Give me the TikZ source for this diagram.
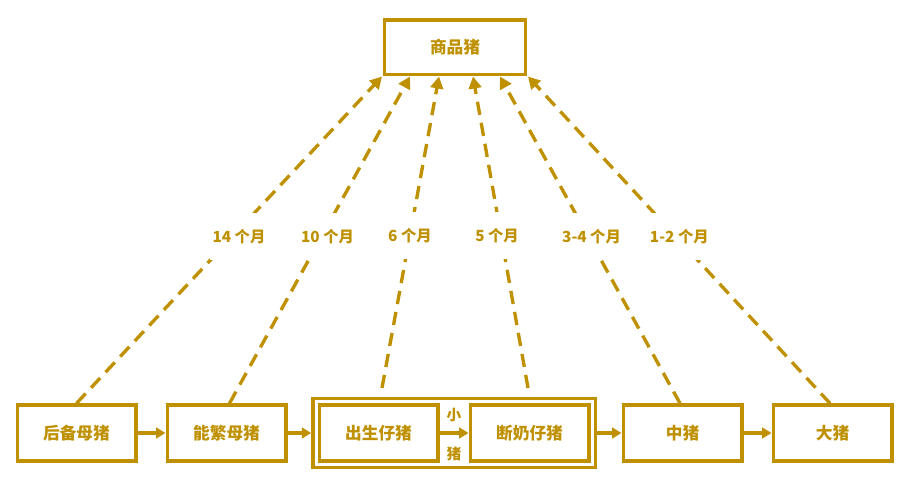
\documentclass[tikz,border=0pt]{standalone}
\usepackage{fontspec}
\setmainfont{Noto Sans CJK SC}
\usetikzlibrary{arrows.meta,calc,fit}
\definecolor{gold}{RGB}{191,144,0}
\tikzset{
  stage/.style = {draw=gold, line width=2.5pt, text=gold, font=\bfseries\fontsize{12.5}{14}\selectfont,
                  minimum width=89pt, minimum height=42pt, fill=white},
  flow/.style  = {draw=gold, line width=2.5pt, -{Triangle[length=7pt,width=8pt]}},
  sale/.style  = {flow, -{Triangle[length=9pt,width=9.5pt]}, dash pattern=on 10pt off 6pt},
  age/.style   = {fill=white, text=gold, font=\bfseries\fontsize{11.5}{13}\selectfont, inner xsep=2pt, inner ysep=12pt},
  tag/.style   = {text=gold, font=\bfseries\fontsize{11}{13}\selectfont, inner sep=1pt},
}
\begin{document}
\begin{tikzpicture}[x=0.75pt, y=-0.75pt]
\useasboundingbox (0,0) rectangle (910,484);
\node [stage, minimum width=106pt, minimum height=41pt] (market) at (455,47.5) {商品猪};
\node [stage] (gilt)     at (76.5,433)  {后备母猪};
\node [stage] (sow)      at (226.5,433) {能繁母猪};
\node [stage] (newborn)  at (378.5,433) {出生仔猪};
\node [stage] (weaned)   at (529.5,433) {断奶仔猪};
\node [stage] (grower)   at (682.5,433) {中猪};
\node [stage] (finisher) at (832.5,433) {大猪};
\node [draw=gold, line width=2.5pt, inner sep=3.5pt, fit=(newborn)(weaned)] (piglet) {};
% growth chain
\draw [flow] (gilt) -- (sow);
\draw [flow] (sow) -- (piglet);
\draw [flow] (newborn) -- node [tag, above=6pt] {小} node [tag, below=8pt] {猪} (weaned);
\draw [flow] (piglet) -- (grower);
\draw [flow] (grower) -- (finisher);
% age at sale
\draw [sale] (gilt.north) -- node [age, pos=0.51, xshift=5pt] {14 个月} ($(market.south)+(-73,0)$);
\draw [sale] ($(sow.north)+(3,0)$) -- node [age, pos=0.51, xshift=4.5pt] {10 个月} ($(market.south)+(-45,0)$);
\draw [sale] ($(newborn.north |- piglet.north)+(3.5,-9)$) -- node [age, pos=0.49] {6 个月} ($(market.south)+(-16,0)$);
\draw [sale] ($(weaned.north |- piglet.north)+(-1.5,-9)$) -- node [age, pos=0.49, xshift=-3pt] {5 个月} ($(market.south)+(18,0)$);
\draw [sale] ($(grower.north)+(-2.5,0)$) -- node [age, pos=0.51, xshift=2.5pt] {3-4 个月} ($(market.south)+(45,0)$);
\draw [sale] ($(finisher.north)+(-2.5,0)$) -- node [age, pos=0.51, xshift=2.5pt] {1-2 个月} ($(market.south)+(73,0)$);
\end{tikzpicture}
\end{document}
